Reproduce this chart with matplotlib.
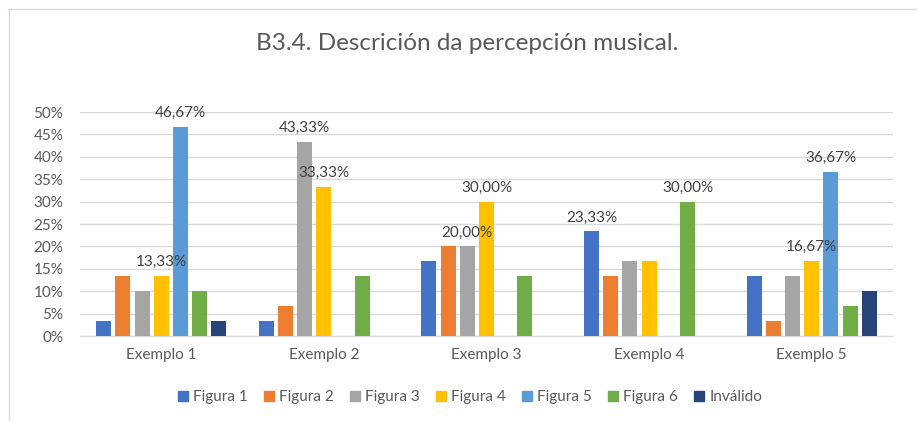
import numpy as np
import matplotlib.pyplot as plt
from matplotlib.lines import Line2D
from matplotlib.ticker import PercentFormatter

plt.rcParams['font.family'] = ['Lato', 'DejaVu Sans']

# Respostas por exemplo (proporción sobre 30 alumnos)
exemplos = ["Exemplo 1", "Exemplo 2", "Exemplo 3", "Exemplo 4", "Exemplo 5"]
series = ["Figura 1", "Figura 2", "Figura 3", "Figura 4", "Figura 5", "Figura 6", "Inválido"]
figura1 = [3.33, 3.33, 16.67, 23.33, 13.33]
figura2 = [13.33, 6.67, 20.00, 13.33, 3.33]
figura3 = [10.00, 43.33, 20.00, 16.67, 13.33]
figura4 = [13.33, 33.33, 30.00, 16.67, 16.67]
figura5 = [46.67, 0, 0, 0, 36.67]
figura6 = [10.00, 13.33, 13.33, 30.00, 6.67]
invalido = [3.33, 0, 0, 0, 10.00]
# (exemplo, serie) das barras con etiqueta
etiquetas = [(0, 3), (0, 4), (1, 2), (1, 3), (2, 2), (2, 3), (3, 0), (3, 5), (4, 3), (4, 4)]

valores = [figura1, figura2, figura3, figura4, figura5, figura6, invalido]
cores = ["#4472C4", "#ED7D31", "#A5A5A5", "#FFC000", "#5B9BD5", "#70AD47", "#264478"]
texto = "#595959"

fig = plt.figure(figsize=(9.17, 4.21), dpi=100)
ax = fig.add_axes([80 / 917, 85 / 421, 813 / 917, 224 / 421])

x = np.arange(len(exemplos))
paso = 0.118
ancho = 0.092
for i, (vals, cor) in enumerate(zip(valores, cores)):
    pos = x + (i - 3) * paso
    ax.bar(pos, np.array(vals) / 100, ancho, color=cor, zorder=3)

for g, s in etiquetas:
    v = valores[s][g]
    ax.annotate(f"{v:.2f}%".replace(".", ","), (x[g] + (s - 3) * paso, v / 100),
                xytext=(0, 5), textcoords="offset points", ha="center", va="bottom",
                fontsize=11, color="#404040", zorder=4)

ax.set_xlim(-0.5, 4.5)
ax.set_ylim(0, 0.5)
ax.set_yticks(np.arange(0, 0.51, 0.05))
ax.yaxis.set_major_formatter(PercentFormatter(1.0, decimals=0))
ax.set_xticks(x, exemplos)
ax.grid(axis="y", color="#D9D9D9", linewidth=1, zorder=0)
for lado in ["top", "right", "left"]:
    ax.spines[lado].set_visible(False)
ax.spines["bottom"].set_color("#D9D9D9")
ax.tick_params(axis="both", length=0, labelsize=11, labelcolor=texto)
ax.tick_params(axis="x", pad=9)
ax.tick_params(axis="y", pad=12)

fig.text(467 / 917, 1 - 43 / 421, "B3.4. Descrición da percepción musical.",
         ha="center", va="center", fontsize=17.5, color=texto)

marcas = [Line2D([], [], marker="s", linestyle="", markersize=7, color=c) for c in cores]
fig.legend(marcas, series, loc="center", bbox_to_anchor=(470 / 917, 1 - 397 / 421),
           ncol=7, frameon=False, fontsize=11, labelcolor=texto,
           handlelength=0.7, handletextpad=0.3, columnspacing=1.05)

# marco gris arriba e á esquerda
fig.add_artist(Line2D([8 / 917, 1], [1 - 8.5 / 421] * 2, color="#D9D9D9", linewidth=1))
fig.add_artist(Line2D([8.5 / 917] * 2, [0, 1 - 8.5 / 421], color="#D9D9D9", linewidth=1))

fig.savefig("out.png", dpi=100, facecolor="white")
